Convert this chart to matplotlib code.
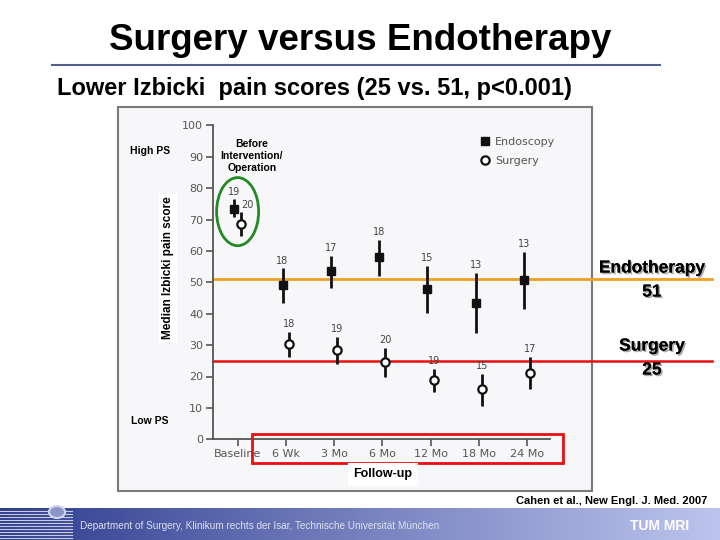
import numpy as np
import matplotlib.pyplot as plt
import matplotlib.patheffects as pe
from matplotlib.patches import Ellipse, Rectangle, Circle

# time points of the study
timepoints = ['Baseline', '6 Wk', '3 Mo', '6 Mo', '12 Mo', '18 Mo', '24 Mo']

# endoscopy arm: median, lower / upper end of bar, number of patients
endo_median = [73.5, 49.2, 53.6, 58.1, 47.8, 43.5, 50.6]
endo_low = [70.9, 43.5, 48.1, 52.1, 40.2, 34.0, 41.4]
endo_high = [76.4, 54.4, 58.5, 63.6, 55.3, 52.9, 59.6]
endo_n = [19, 18, 17, 18, 15, 13, 13]

# surgery arm
surg_median = [68.7, 30.4, 28.4, 24.7, 18.8, 15.9, 21.2]
surg_low = [64.6, 26.3, 24.0, 19.9, 15.0, 10.5, 15.9]
surg_high = [72.5, 34.1, 32.5, 29.0, 22.4, 20.8, 26.3]
surg_n = [20, 18, 19, 20, 19, 15, 17]

# mean follow-up scores
endo_mean = 51
surg_mean = 25

W, H = 720, 540
GRAY = '#555555'
SANS = ['Liberation Sans', 'DejaVu Sans']


def px(x, y):
    return x / W, 1 - y / H


fig = plt.figure(figsize=(7.2, 5.4), dpi=100)
fig.patch.set_facecolor('white')

# pasted chart picture background
x0, y0 = px(118, 491)
fig.patches.append(Rectangle((x0, y0), (592 - 118) / W, (491 - 107) / H,
                             transform=fig.transFigure, facecolor='#f7f7fa',
                             edgecolor='#7a7a7a', lw=1.5, zorder=-5))

ax = fig.add_axes([213 / W, 1 - 439.3 / H, 337 / W, 314 / H])
ax.set_facecolor('none')
ax.set_zorder(2)

x = np.arange(len(timepoints))
xe = x - 0.07
xs = x + 0.06

em = np.array(endo_median)
sm = np.array(surg_median)
ax.errorbar(xe, em, yerr=[em - np.array(endo_low), np.array(endo_high) - em],
            fmt='none', ecolor='#111111', elinewidth=2, capsize=0, zorder=3)
ax.errorbar(xs, sm, yerr=[sm - np.array(surg_low), np.array(surg_high) - sm],
            fmt='none', ecolor='#111111', elinewidth=2, capsize=0, zorder=3)
ax.plot(xe, em, ls='none', marker='s', ms=5.5, color='#111111',
        label='Endoscopy', zorder=4)
ax.plot(xs, sm, ls='none', marker='o', ms=6, mfc='white', mec='#111111',
        mew=1.6, label='Surgery', zorder=4)

for i in range(len(timepoints)):
    ax.annotate(str(endo_n[i]), (xe[i], endo_high[i]), xytext=(0, 2),
                textcoords='offset points', ha='center', va='bottom',
                fontsize=7, color='#444444', family='DejaVu Sans')
    if i == 0:
        ax.annotate(str(surg_n[i]), (xs[i], surg_high[i]), xytext=(5, 1),
                    textcoords='offset points', ha='center', va='bottom',
                    fontsize=7, color='#444444', family='DejaVu Sans')
    else:
        ax.annotate(str(surg_n[i]), (xs[i], surg_high[i]), xytext=(0, 2),
                    textcoords='offset points', ha='center', va='bottom',
                    fontsize=7, color='#444444', family='DejaVu Sans')

ax.set_xlim(-0.51, 6.47)
ax.set_ylim(0, 100)
ax.set_yticks(np.arange(0, 101, 10))
ax.set_xticks(x)
ax.set_xticklabels(timepoints)
for s in ['top', 'right']:
    ax.spines[s].set_visible(False)
for s in ['left', 'bottom']:
    ax.spines[s].set_color(GRAY)
    ax.spines[s].set_linewidth(1.3)
ax.tick_params(colors=GRAY, labelcolor=GRAY, length=5, width=1.2,
               labelsize=8, pad=2)
for t in ax.get_xticklabels() + ax.get_yticklabels():
    t.set_family('DejaVu Sans')

leg = ax.legend(loc='upper left', bbox_to_anchor=(0.765, 0.995), frameon=False,
                fontsize=8, handlelength=0.8, handletextpad=0.5,
                labelspacing=0.85, labelcolor=GRAY)

# horizontal lines of the mean scores, running out of the chart
ext = (712 - 213) / 337
ax.axhline(endo_mean, xmin=0, xmax=ext, color='#f0a020', lw=2, clip_on=False,
           zorder=2)
ax.axhline(surg_mean, xmin=0, xmax=ext, color='#e81010', lw=1.8, clip_on=False,
           zorder=2)

# green ellipse around baseline values
ax.add_patch(Ellipse((0.0, 72.5), 0.87, 21.7, fill=False, ec='#218a21',
                     lw=2, zorder=5, clip_on=False))

# red box around follow-up labels
ax.add_patch(Rectangle((0.29, -7.66), 6.45, 9.26, fill=False, ec='#e81010',
                       lw=2, clip_on=False, zorder=5))

shadow = [pe.withSimplePatchShadow(offset=(1.2, -1.2), shadow_rgbFace='#888888',
                                   alpha=0.7), pe.Normal()]

# slide texts
fig.text(*px(360, 40), 'Surgery versus Endotherapy', ha='center', va='center',
         fontsize=26.5, fontweight='bold', family=SANS)
fig.add_artist(plt.Line2D([52 / W, 660 / W], [1 - 65 / H, 1 - 65 / H],
                          color='#55608f', lw=1.5))
fig.text(*px(57, 89), 'Lower Izbicki  pain scores (25 vs. 51, p<0.001)',
         ha='left', va='center', fontsize=17, fontweight='bold', family=SANS)

fig.text(*px(252, 156), 'Before\nIntervention/\nOperation', ha='center',
         va='center', fontsize=7.5, fontweight='bold', family=SANS,
         linespacing=1.25)
fig.text(*px(150, 151), 'High PS', ha='center', va='center', fontsize=7.5,
         fontweight='bold', family=SANS)
fig.text(*px(150, 421), 'Low PS', ha='center', va='center', fontsize=7.5,
         fontweight='bold', family=SANS)
fig.text(*px(168, 268), 'Median Izbicki pain score', rotation=90,
         ha='center', va='center', fontsize=8.5, fontweight='bold', family=SANS,
         bbox=dict(facecolor='white', edgecolor='none', pad=2))

fig.text(*px(383, 474), 'Follow-up', ha='center', va='center', fontsize=9,
         fontweight='bold', family=SANS, zorder=6,
         bbox=dict(facecolor='white', edgecolor='none', pad=4))

fig.text(*px(652, 268), 'Endotherapy', ha='center', va='center', fontsize=12.5,
         fontweight='bold', family=SANS, path_effects=shadow)
fig.text(*px(652, 292), str(endo_mean), ha='center', va='center', fontsize=12.5,
         fontweight='bold', family=SANS, path_effects=shadow)
fig.text(*px(652, 346), 'Surgery', ha='center', va='center', fontsize=12.5,
         fontweight='bold', family=SANS, path_effects=shadow)
fig.text(*px(652, 370), str(surg_mean), ha='center', va='center', fontsize=12.5,
         fontweight='bold', family=SANS, path_effects=shadow)

fig.text(*px(707, 501), 'Cahen et al., New Engl. J. Med. 2007', ha='right',
         va='center', fontsize=8, fontweight='bold', family=SANS)

# footer band
fax = fig.add_axes([0, 0, 1, 32 / H])
fax.set_axis_off()
grad = np.linspace(0, 1, 256)
c1 = np.array([0.18, 0.24, 0.56])
c2 = np.array([0.74, 0.77, 0.93])
band = c1[None, :] * (1 - grad[:, None]) + c2[None, :] * grad[:, None]
fax.imshow(band[None, :, :], aspect='auto', extent=[0, W, 0, 32])
for yy in np.arange(2, 30, 3):
    fax.plot([0, 72], [yy, yy], color='#c8cce0', lw=0.8)
fax.set_xlim(0, W)
fax.set_ylim(0, 32)

fig.patches.append(Circle(px(57, 512), 8 / W, transform=fig.transFigure,
                          facecolor='#8a96c4', edgecolor='#d0d6ee', lw=1.5,
                          zorder=10))
fig.text(*px(80, 526), 'Department of Surgery, Klinikum rechts der Isar, '
         'Technische Universität München', ha='left', va='center',
         fontsize=7.2, color='#dde0f2', family=SANS, zorder=11)
fig.text(*px(660, 526), 'TUM MRI', ha='center', va='center', fontsize=10,
         fontweight='bold', color='white', family=SANS, zorder=11)

fig.savefig('out.png', dpi=100)
